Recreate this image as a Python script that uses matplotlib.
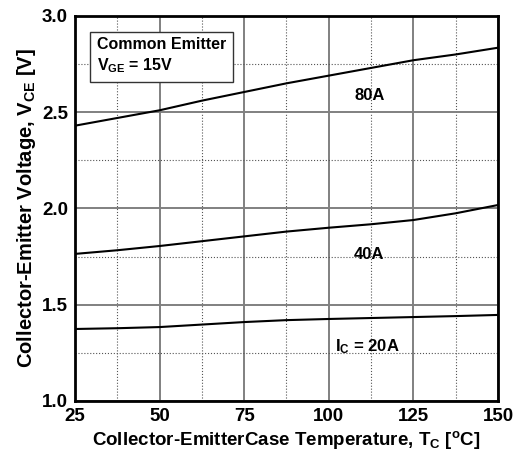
import numpy as np
import matplotlib
matplotlib.use('Agg')
import matplotlib.pyplot as plt

plt.rcParams['font.family'] = ['Liberation Sans', 'DejaVu Sans']
plt.rcParams['font.weight'] = 'bold'
plt.rcParams['mathtext.fontset'] = 'custom'
plt.rcParams['mathtext.rm'] = 'Liberation Sans:bold'
plt.rcParams['mathtext.it'] = 'Liberation Sans:bold'
plt.rcParams['mathtext.bf'] = 'Liberation Sans:bold'

temp = [25, 37.5, 50, 62.5, 75, 87.5, 100, 112.5, 125, 137.5, 150]
vce_80a = [2.43, 2.47, 2.51, 2.56, 2.605, 2.65, 2.69, 2.73, 2.77, 2.80, 2.835]
vce_40a = [1.764, 1.783, 1.805, 1.83, 1.855, 1.88, 1.90, 1.918, 1.94, 1.975, 2.018]
vce_20a = [1.374, 1.378, 1.384, 1.397, 1.41, 1.42, 1.426, 1.431, 1.436, 1.441, 1.447]

fig = plt.figure(figsize=(5.15, 4.53), dpi=100)
ax = fig.add_axes([0.1456, 0.1148, 0.8214, 0.85])

for v in (vce_80a, vce_40a, vce_20a):
    ax.plot(temp, v, color='black', lw=1.5, zorder=3)

ax.set_xlim(25, 150)
ax.set_ylim(1.0, 3.0)
ax.set_xticks([25, 50, 75, 100, 125, 150])
ax.set_yticks([1.0, 1.5, 2.0, 2.5, 3.0])
ax.set_xticks([37.5, 62.5, 87.5, 112.5, 137.5], minor=True)
ax.set_yticks([1.25, 1.75, 2.25, 2.75], minor=True)
ax.grid(which='major', color='#808080', lw=1.4, ls='-')
ax.grid(which='minor', color='#555555', lw=0.8, ls=':')
ax.tick_params(which='both', length=0, labelsize=13.5, pad=5)
for s in ax.spines.values():
    s.set_linewidth(2)

ax.set_xlabel(r'Collector-EmitterCase Temperature, T$_\mathregular{C}$ [$^\mathregular{o}$C]',
              fontsize=13.5, fontweight='bold', labelpad=3)
ax.set_ylabel(r'Collector-Emitter Voltage, V$_\mathregular{CE}$ [V]',
              fontsize=14.5, fontweight='bold', labelpad=3)

ax.text(112, 2.585, '80A', fontsize=12, ha='center', va='center')
ax.text(112, 1.76, '40A', fontsize=12, ha='center', va='center')
ax.text(111.5, 1.28, r'I$_\mathregular{C}$ = 20A', fontsize=12, ha='center', va='center')
ax.text(0.052, 0.945, 'Common Emitter\n' + r'V$_\mathregular{GE}$ = 15V', transform=ax.transAxes,
        fontsize=11.5, ha='left', va='top', linespacing=1.3,
        bbox=dict(boxstyle='square,pad=0.45', fc='white', ec='#333333', lw=1))

fig.savefig('out.png', dpi=100)
